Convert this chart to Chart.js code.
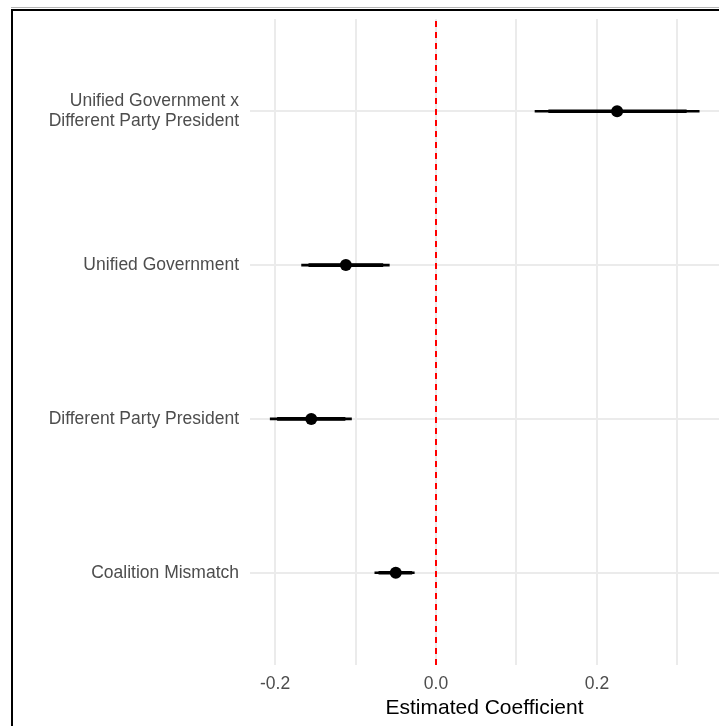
<!DOCTYPE html>
<html>
<head>
<meta charset="utf-8">
<script src="https://cdn.jsdelivr.net/npm/chart.js@4"></script>
<style>
    body { margin: 0; background: #fff; }
    #wrap { position: relative; width: 719px; height: 726px; overflow: hidden; }
    .frame { position: absolute; left: 11px; top: 9px; width: 800px; height: 800px;
             border-left: 2px solid #000; border-top: 2px solid #000; pointer-events: none; }
    .frame-shadow { position: absolute; left: 11px; top: 7px; width: 800px; height: 1px;
                    background: #b5b5b5; pointer-events: none; }
</style>
</head>
<body>
<div id="wrap">
    <canvas id="coefChart" width="719" height="726"></canvas>
    <div class="frame-shadow"></div>
    <div class="frame"></div>
</div>
<script>
// 系数图数据（自下而上）
const terms = [
    'Coalition Mismatch',
    'Different Party President',
    'Unified Government',
    ['Unified Government x', 'Different Party President']
];
const estimates = [-0.050, -0.155, -0.112, 0.225];
const outerLow  = [-0.076, -0.206, -0.167, 0.123];
const outerHigh = [-0.027, -0.105, -0.058, 0.327];
const innerLow  = [-0.071, -0.197, -0.158, 0.140];
const innerHigh = [-0.030, -0.113, -0.066, 0.311];
const xTicks = [-0.2, -0.1, 0, 0.1, 0.2, 0.3];
const xMin = -0.2311, xMax = 0.3516;
const yMin = 0.4, yMax = 4.6;
const refValue = 0;

document.addEventListener('DOMContentLoaded', function() {
    const labelFont = { family: "'Liberation Sans', Arial, sans-serif", size: 17.5, lineHeight: 1.1 };
    const ctx = document.getElementById('coefChart').getContext('2d');

    new Chart(ctx, {
        type: 'bar',
        data: {
            datasets: [
                {
                    type: 'scatter',
                    data: estimates.map((v, i) => ({ x: v, y: i + 1 })),
                    backgroundColor: '#000',
                    borderColor: '#000',
                    pointRadius: 6,
                    borderWidth: 0,
                    order: 0
                },
                {
                    type: 'bar',
                    data: innerLow.map((v, i) => ({ x: [v, innerHigh[i]], y: i + 1 })),
                    backgroundColor: '#000',
                    barThickness: 3,
                    grouped: false,
                    order: 1
                },
                {
                    type: 'bar',
                    data: outerLow.map((v, i) => ({ x: [v, outerHigh[i]], y: i + 1 })),
                    backgroundColor: '#000',
                    barThickness: 2,
                    grouped: false,
                    order: 2
                },
                {
                    type: 'line',
                    data: [{ x: refValue, y: yMin }, { x: refValue, y: yMax }],
                    borderColor: '#ff0000',
                    borderWidth: 2,
                    borderDash: [6, 5],
                    pointRadius: 0,
                    order: 3
                }
            ]
        },
        options: {
            indexAxis: 'y',
            responsive: false,
            animation: false,
            layout: { autoPadding: false, padding: { top: 19, left: 0, right: 0, bottom: 0 } },
            plugins: {
                legend: { display: false },
                tooltip: { enabled: false }
            },
            scales: {
                x: {
                    type: 'linear',
                    min: xMin,
                    max: xMax,
                    offset: false,
                    afterBuildTicks: (scale) => { scale.ticks = xTicks.map(v => ({ value: v })); },
                    afterFit: (scale) => {
                        scale.height = 61;
                        scale.paddingLeft = 0;
                        scale.paddingRight = 0;
                    },
                    border: { display: false },
                    grid: { color: '#ebebeb', lineWidth: 2, drawTicks: false, offset: false },
                    ticks: {
                        color: '#4d4d4d',
                        font: { family: "'Liberation Sans', Arial, sans-serif", size: 17.5 },
                        padding: 9,
                        autoSkip: false,
                        maxRotation: 0,
                        callback: function(value) {
                            const v = Math.round(value * 10);
                            return v % 2 === 0 ? (v / 10).toFixed(1) : '';
                        }
                    },
                    title: {
                        display: true,
                        text: 'Estimated Coefficient',
                        color: '#000',
                        font: { family: "'Liberation Sans', Arial, sans-serif", size: 21 },
                        padding: { top: 0, bottom: 5 }
                    }
                },
                y: {
                    type: 'linear',
                    min: yMin,
                    max: yMax,
                    offset: false,
                    afterBuildTicks: (scale) => { scale.ticks = terms.map((t, i) => ({ value: i + 1 })); },
                    afterFit: (scale) => {
                        scale.width = 250;
                        scale.paddingTop = 0;
                        scale.paddingBottom = 0;
                    },
                    border: { display: false },
                    grid: { color: '#ebebeb', lineWidth: 2, drawTicks: false, offset: false },
                    ticks: {
                        color: '#4d4d4d',
                        font: labelFont,
                        padding: 11,
                        autoSkip: false,
                        callback: function(value) {
                            return terms[Math.round(value) - 1];
                        }
                    }
                }
            }
        }
    });
});
</script>
</body>
</html>
